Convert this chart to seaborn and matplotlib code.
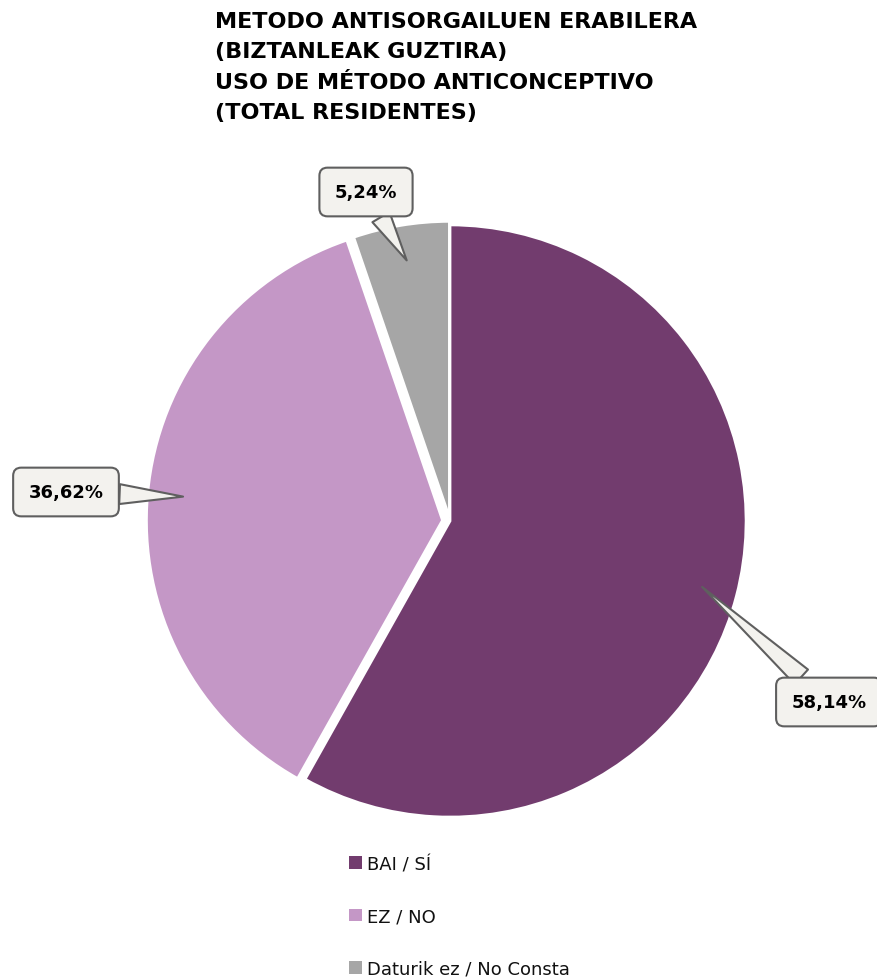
import numpy as np
import matplotlib
matplotlib.use("Agg")
import matplotlib.pyplot as plt
import seaborn as sns
from matplotlib.patches import Patch

categories = ["BAI / SÍ", "EZ / NO", "Daturik ez / No Consta"]
values = [58.14, 36.62, 5.24]
labels = ["58,14%", "36,62%", "5,24%"]
colors = ["#723C6E", "#C497C6", "#A6A6A6"]

title = ("METODO ANTISORGAILUEN ERABILERA\n(BIZTANLEAK GUZTIRA)\n"
         "USO DE MÉTODO ANTICONCEPTIVO\n(TOTAL RESIDENTES)")

sns.set_theme(style="white")
plt.rcParams['font.family'] = ['DejaVu Sans']

fig = plt.figure(figsize=(8.77, 9.79), dpi=100)
# pie axes: centre at (450, 522) px, 600 px wide
ax = fig.add_axes([150 / 877, (979 - 522 - 300) / 979, 600 / 877, 600 / 979])

radius = 0.987
wedges, _ = ax.pie(values, colors=colors, startangle=90, counterclock=False,
                   radius=radius, explode=[0, 0.025, 0.012],
                   wedgeprops=dict(edgecolor="white", linewidth=2))
ax.set_xlim(-1, 1)
ax.set_ylim(-1, 1)
ax.set_aspect("equal")
ax.axis("off")

# label box positions in figure pixels (from top-left)
box_pos = [(829, 703), (66, 493), (366, 193)]
for w, lab, (bx, by) in zip(wedges, labels, box_pos):
    mid = np.deg2rad((w.theta1 + w.theta2) / 2)
    cx, cy = w.center
    tip = (cx + 0.88 * radius * np.cos(mid), cy + 0.88 * radius * np.sin(mid))
    ax.annotate(lab, xy=tip, xycoords="data",
                xytext=(bx / 877, 1 - by / 979), textcoords="figure fraction",
                ha="center", va="center", fontsize=13, fontweight="bold",
                color="black",
                bbox=dict(boxstyle="round,pad=0.85,rounding_size=0.45",
                          fc="#F3F2EE", ec="#5F5F5F", lw=1.5),
                arrowprops=dict(arrowstyle="wedge,tail_width=1.1,shrink_factor=0.5",
                                fc="#F3F2EE", ec="#5F5F5F", lw=1.5,
                                shrinkA=0, shrinkB=0))

fig.text(215 / 877, 1 - 12 / 979, title, ha="left", va="top", color="black",
         fontsize=16, fontweight="bold", linespacing=1.65)

handles = [Patch(facecolor=c, edgecolor="none") for c in colors]
fig.legend(handles, categories, loc="upper left",
           bbox_to_anchor=(340 / 877, 1 - 847 / 979), frameon=False,
           fontsize=13, labelspacing=1.9, handlelength=0.7, handleheight=0.7,
           handletextpad=0.3, borderpad=0, labelcolor="#111111")

fig.savefig("out.png", dpi=100)
